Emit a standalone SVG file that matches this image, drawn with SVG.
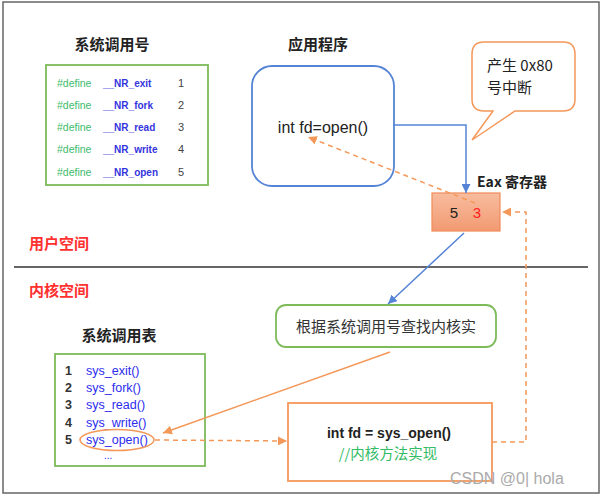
<svg xmlns="http://www.w3.org/2000/svg" width="601" height="495" viewBox="0 0 601 495">
<style>
  text { font-family: "Liberation Sans", "Noto Sans CJK SC", sans-serif; }
  .cjk { font-family: "Noto Sans CJK SC", "Liberation Sans", sans-serif; }
  .title { font-size: 15px; font-weight: bold; fill: #222; }
  .red { font-size: 15px; font-weight: bold; fill: #ff3030; }
  .def { font-size: 10.5px; fill: #3dbb6a; }
  .nr { font-size: 10px; font-weight: bold; fill: #3434dd; }
  .num { font-size: 11px; fill: #444; }
  .tnum { font-size: 12.5px; font-weight: bold; fill: #333; }
  .sys { font-size: 12.5px; fill: #2c2cee; }
  .gbox { fill: #fff; stroke: #7dbb5a; stroke-width: 1.8; }
  .blue { stroke: #5584d6; stroke-width: 1.5; fill: none; }
  .orange { stroke: #f4985a; stroke-width: 1.5; fill: none; }
  .dash { stroke-dasharray: 5 4; }
</style>
<defs>
  <marker id="ab" viewBox="0 0 10 10" refX="10" refY="5" markerWidth="9" markerHeight="9" markerUnits="userSpaceOnUse" orient="auto">
    <path d="M0,0 L10,5 L0,10 z" fill="#5584d6"/>
  </marker>
  <marker id="ao" viewBox="0 0 10 10" refX="10" refY="5" markerWidth="9" markerHeight="9" markerUnits="userSpaceOnUse" orient="auto">
    <path d="M0,0 L10,5 L0,10 z" fill="#f4985a"/>
  </marker>
  <linearGradient id="eaxg" x1="0" y1="0" x2="0" y2="1">
    <stop offset="0" stop-color="#f7bc9e"/>
    <stop offset="1" stop-color="#f29a72"/>
  </linearGradient>
</defs>

<rect x="3" y="2" width="596" height="491" fill="#fff" stroke="#666" stroke-width="1.5"/>

<g id="nr-table">
  <text class="title cjk" x="112" y="50" text-anchor="middle">系统调用号</text>
  <rect class="gbox" x="46" y="65" width="162" height="120"/>
  <text class="def" x="57" y="87">#define</text>
  <text class="nr" x="103" y="87">__NR_exit</text>
  <text class="num" x="178" y="87">1</text>
  <text class="def" x="57" y="109">#define</text>
  <text class="nr" x="103" y="109">__NR_fork</text>
  <text class="num" x="178" y="109">2</text>
  <text class="def" x="57" y="131">#define</text>
  <text class="nr" x="103" y="131">__NR_read</text>
  <text class="num" x="178" y="131">3</text>
  <text class="def" x="57" y="153">#define</text>
  <text class="nr" x="103" y="153">__NR_write</text>
  <text class="num" x="178" y="153">4</text>
  <text class="def" x="57" y="176">#define</text>
  <text class="nr" x="103" y="176">__NR_open</text>
  <text class="num" x="178" y="176">5</text>
</g>

<g id="app">
  <text class="title cjk" x="318" y="50" text-anchor="middle">应用程序</text>
  <rect x="252" y="66" width="142" height="120" rx="20" fill="#fff" stroke="#5584d6" stroke-width="1.8"/>
  <text x="323" y="133" text-anchor="middle" font-size="16" fill="#222">int fd=open()</text>
</g>

<g id="bubble">
  <path d="M484,42 H563 Q575,42 575,54 V99 Q575,111 563,111 H515 L472,140 L493,111 H484 Q472,111 472,99 V54 Q472,42 484,42 Z" fill="#fff" stroke="#f4985a" stroke-width="1.5"/>
  <text class="cjk" x="487" y="71" font-size="15" fill="#222">产生 0x80</text>
  <text class="cjk" x="487" y="93" font-size="15" fill="#222">号中断</text>
</g>

<g id="eax">
  <text class="cjk" x="477" y="187" font-size="14" font-weight="bold" fill="#222">Eax 寄存器</text>
  <rect x="432" y="193" width="68" height="38" fill="url(#eaxg)" stroke="#f08a5a" stroke-width="1.2"/>
  <text x="454" y="218" text-anchor="middle" font-size="15" fill="#222">5</text>
  <text x="477" y="218" text-anchor="middle" font-size="15" fill="#ff2020">3</text>
</g>

<g id="spaces">
  <text class="red cjk" x="29" y="249">用户空间</text>
  <line x1="14" y1="267" x2="588" y2="267" stroke="#333" stroke-width="1.5"/>
  <text class="red cjk" x="29" y="296">内核空间</text>
</g>

<g id="lookup">
  <rect x="276" y="305" width="220" height="42" rx="10" fill="#fff" stroke="#7dbb5a" stroke-width="1.8"/>
  <text class="cjk" x="386" y="332" text-anchor="middle" font-size="15" fill="#333">根据系统调用号查找内核实</text>
</g>

<g id="sys-table">
  <text class="title cjk" x="119" y="341" text-anchor="middle">系统调用表</text>
  <rect class="gbox" x="55" y="354" width="150" height="112"/>
  <text class="tnum" x="65" y="375">1</text>
  <text class="sys" x="86" y="375">sys_exit()</text>
  <text class="tnum" x="65" y="392">2</text>
  <text class="sys" x="86" y="392">sys_fork()</text>
  <text class="tnum" x="65" y="409">3</text>
  <text class="sys" x="86" y="409">sys_read()</text>
  <text class="tnum" x="65" y="427">4</text>
  <text class="sys" x="86" y="427">sys_write()</text>
  <text class="tnum" x="65" y="444">5</text>
  <text class="sys" x="86" y="444">sys_open()</text>
  <text x="104" y="459" font-size="10" fill="#2c2cee">...</text>
  <ellipse cx="117" cy="440" rx="37" ry="10.5" fill="none" stroke="#f4985a" stroke-width="1.5"/>
</g>

<g id="impl">
  <rect x="288" y="403" width="204" height="78" fill="#fff" stroke="#f4985a" stroke-width="1.8"/>
  <text x="389" y="438" text-anchor="middle" font-size="14" font-weight="bold" fill="#222">int fd = sys_open()</text>
  <text class="cjk" x="388" y="459" text-anchor="middle" font-size="14.5" fill="#33bb66">//内核方法实现</text>
</g>

<g id="connectors">
  <path class="blue" d="M394,125 H466 V193" marker-end="url(#ab)"/>
  <line class="blue" x1="464" y1="233" x2="388" y2="304" marker-end="url(#ab)"/>
  <line class="orange dash" x1="475" y1="203" x2="308" y2="137" marker-end="url(#ao)"/>
  <path class="orange dash" d="M492,442 H526 V212 H502" marker-end="url(#ao)"/>
  <line class="orange" x1="390" y1="352" x2="163" y2="433" marker-end="url(#ao)"/>
  <line class="orange dash" x1="155" y1="440" x2="287" y2="441" marker-end="url(#ao)"/>
</g>

<text x="450" y="484" font-size="16" fill="#aaa">CSDN @0| hola</text>
</svg>
